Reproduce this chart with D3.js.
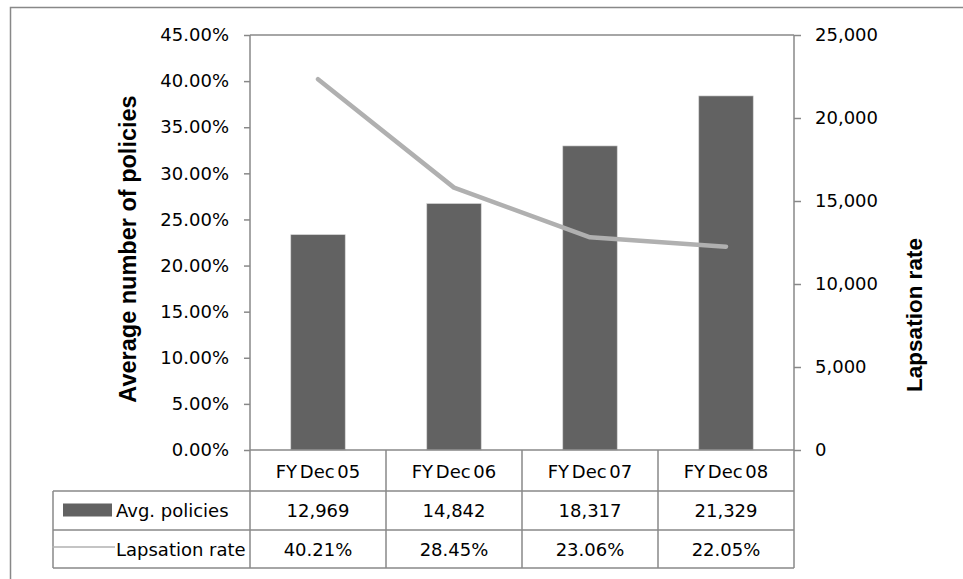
<!DOCTYPE html>
<html>
<head>
<meta charset="utf-8">
<script src="https://cdn.jsdelivr.net/npm/d3@7"></script>
<style>
  html, body { margin: 0; padding: 0; background: #fff; }
  svg { display: block; }
  text { font-family: "DejaVu Sans", sans-serif; fill: #000; }
</style>
</head>
<body>
<svg id="chart" width="963" height="579"></svg>
<script>
// Data
const categories = ["FY Dec 05", "FY Dec 06", "FY Dec 07", "FY Dec 08"];
const avgPolicies = [12969, 14842, 18317, 21329];
const lapsationRate = [0.4021, 0.2845, 0.2306, 0.2205];
const leftTicks = [0, 0.05, 0.10, 0.15, 0.20, 0.25, 0.30, 0.35, 0.40, 0.45];
const rightTicks = [0, 5000, 10000, 15000, 20000, 25000];
const seriesNames = ["Avg. policies", "Lapsation rate"];
const leftTitle = "Average number of policies";
const rightTitle = "Lapsation rate";

// Layout
const plot = { left: 250, right: 794, top: 35, bottom: 450 };
const rowLines = [491, 530, 568];
const tableLeft = 53;
const borderCol = "#888888";
const barCol = "#626262";
const lineCol = "#b0b0b0";

const svg = d3.select("#chart");

// Outer chart frame
svg.append("rect")
  .attr("x", 10.5).attr("y", 7.5)
  .attr("width", 1000).attr("height", 640)
  .attr("fill", "none").attr("stroke", borderCol).attr("stroke-width", 1.5);

// Scales
const x = d3.scaleBand().domain(categories)
  .range([plot.left, plot.right]).paddingInner(0.6).paddingOuter(0.3);
const yL = d3.scaleLinear().domain([0, 0.45]).range([plot.bottom, plot.top]);
const yR = d3.scaleLinear().domain([0, 25000]).range([plot.bottom, plot.top]);
const colEdge = i => plot.left + i * x.step();

// Plot area top border
svg.append("line")
  .attr("x1", plot.left).attr("x2", plot.right)
  .attr("y1", plot.top).attr("y2", plot.top)
  .attr("stroke", borderCol).attr("stroke-width", 1.5);

// Bars (right axis)
svg.append("g").selectAll("rect")
  .data(categories)
  .join("rect")
  .attr("x", d => x(d))
  .attr("width", x.bandwidth())
  .attr("y", (d, i) => yR(avgPolicies[i]))
  .attr("height", (d, i) => plot.bottom - yR(avgPolicies[i]))
  .attr("fill", barCol)
  .attr("stroke", "#d0d0d0").attr("stroke-width", 0.6);

// Line (left axis)
const line = d3.line()
  .x((d, i) => x(categories[i]) + x.bandwidth() / 2)
  .y(d => yL(d));
svg.append("path")
  .datum(lapsationRate)
  .attr("d", line)
  .attr("fill", "none")
  .attr("stroke", lineCol)
  .attr("stroke-width", 4.5)
  .attr("stroke-linecap", "round")
  .attr("stroke-linejoin", "round");

// Left axis
const gL = svg.append("g")
  .attr("transform", `translate(${plot.left},0)`)
  .call(d3.axisLeft(yL).tickValues(leftTicks).tickFormat(d3.format(".2%")).tickSize(6).tickPadding(15));
// Right axis
const gR = svg.append("g")
  .attr("transform", `translate(${plot.right},0)`)
  .call(d3.axisRight(yR).tickValues(rightTicks).tickFormat(d3.format(",")).tickSize(7).tickPadding(14));

[gL, gR].forEach(g => {
  g.select(".domain").remove();
  g.selectAll(".tick line").attr("stroke", borderCol).attr("stroke-width", 1.5);
  g.selectAll(".tick text")
    .style("font-family", "'DejaVu Sans', sans-serif")
    .style("font-size", "18px").attr("fill", "#000");
});

// Axis lines run down through the data table
svg.append("line")
  .attr("x1", plot.left).attr("x2", plot.left)
  .attr("y1", plot.top).attr("y2", rowLines[2])
  .attr("stroke", borderCol).attr("stroke-width", 1.5);
svg.append("line")
  .attr("x1", plot.right).attr("x2", plot.right)
  .attr("y1", plot.top).attr("y2", rowLines[2])
  .attr("stroke", borderCol).attr("stroke-width", 1.5);

// Data table grid
const grid = svg.append("g").attr("stroke", borderCol).attr("stroke-width", 1.5);
grid.append("line").attr("x1", plot.left).attr("x2", plot.right)
  .attr("y1", plot.bottom).attr("y2", plot.bottom);
rowLines.forEach(y => {
  grid.append("line").attr("x1", tableLeft).attr("x2", plot.right)
    .attr("y1", y).attr("y2", y);
});
grid.append("line").attr("x1", tableLeft).attr("x2", tableLeft)
  .attr("y1", rowLines[0]).attr("y2", rowLines[2]);
for (let i = 1; i < categories.length; i++) {
  grid.append("line").attr("x1", colEdge(i)).attr("x2", colEdge(i))
    .attr("y1", plot.bottom).attr("y2", rowLines[2]);
}

// Table text
const cellText = (txt, cx, cy) => svg.append("text")
  .attr("x", cx).attr("y", cy)
  .attr("text-anchor", "middle")
  .attr("dominant-baseline", "central")
  .style("font-size", "18px")
  .style("word-spacing", "-3px")
  .text(txt);

const rowMid = [(plot.bottom + rowLines[0]) / 2, (rowLines[0] + rowLines[1]) / 2, (rowLines[1] + rowLines[2]) / 2];
categories.forEach((c, i) => {
  const cx = colEdge(i) + x.step() / 2;
  cellText(c, cx, rowMid[0] + 1);
  cellText(d3.format(",")(avgPolicies[i]), cx, rowMid[1]);
  cellText(d3.format(".2%")(lapsationRate[i]), cx, rowMid[2]);
});

// Legend keys in the table
svg.append("rect")
  .attr("x", 63).attr("y", rowMid[1] - 7)
  .attr("width", 49).attr("height", 13)
  .attr("fill", barCol);
svg.append("line")
  .attr("x1", 52).attr("x2", 115)
  .attr("y1", rowMid[2] - 2).attr("y2", rowMid[2] - 2)
  .attr("stroke", lineCol).attr("stroke-width", 1.5);
seriesNames.forEach((s, i) => {
  svg.append("text")
    .attr("x", 116).attr("y", rowMid[i + 1])
    .attr("dominant-baseline", "central")
    .style("font-size", "18px")
    .text(s);
});

// Axis titles
svg.append("text")
  .attr("transform", `translate(136,249) rotate(-90)`)
  .attr("text-anchor", "middle")
  .style("font-family", "'Liberation Sans', Arial, sans-serif")
  .style("font-weight", "bold")
  .style("font-size", "23.5px")
  .text(leftTitle);
svg.append("text")
  .attr("transform", `translate(922,315) rotate(-90)`)
  .attr("text-anchor", "middle")
  .style("font-family", "'Liberation Sans', Arial, sans-serif")
  .style("font-weight", "bold")
  .style("font-size", "22.5px")
  .text(rightTitle);
</script>
</body>
</html>
